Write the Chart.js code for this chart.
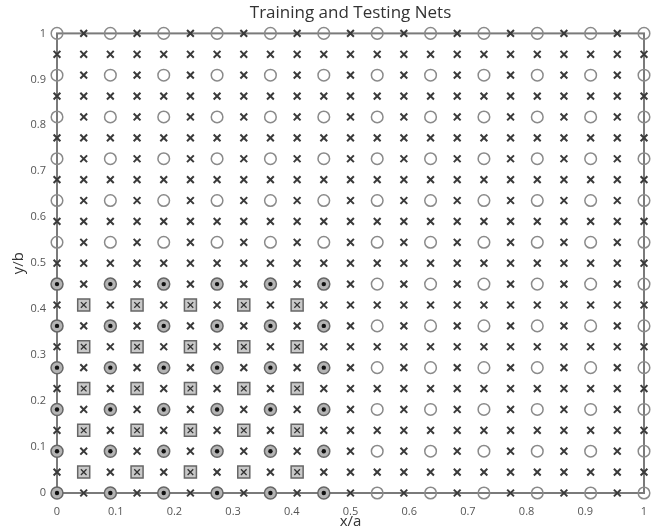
<!DOCTYPE html>
<html>
  <head>
    <title>Training and Testing Nets</title>
    <script src="https://cdn.jsdelivr.net/npm/chart.js"></script>
    <style>
      body {
        margin: 0;
        background: #ffffff;
      }
      .chart-wrapper {
        width: 668px;
        height: 531px;
        position: relative;
      }
    </style>
  </head>
  <body>
    <div class="chart-wrapper">
      <canvas id="netsChart"></canvas>
    </div>

    <script>
      // coarse net (circle nodes) and the midpoints between them
      var coarse = [0, 0.0909, 0.1818, 0.2727, 0.3636, 0.4545, 0.5455, 0.6364, 0.7273, 0.8182, 0.9091, 1];
      var mid = [0.0455, 0.1364, 0.2273, 0.3182, 0.4091, 0.5, 0.5909, 0.6818, 0.7727, 0.8636, 0.9545];
      // lower-left block used for training
      var trainCoarse = [0, 0.0909, 0.1818, 0.2727, 0.3636, 0.4545];
      var trainMid = [0.0455, 0.1364, 0.2273, 0.3182, 0.4091];
      var xTicks = [0, 0.1, 0.2, 0.3, 0.4, 0.5, 0.6, 0.7, 0.8, 0.9, 1];
      var yTicks = [0, 0.1, 0.2, 0.3, 0.4, 0.5, 0.6, 0.7, 0.8, 0.9, 1];

      function pairs(xs, ys, skip) {
        var out = [];
        xs.forEach(function (x) {
          ys.forEach(function (y) {
            if (!skip || !skip(x, y)) out.push({ x: x, y: y });
          });
        });
        return out;
      }
      function inTrain(x, y) {
        return x <= 0.46 && y <= 0.46;
      }

      var openCircles = pairs(coarse, coarse, inTrain);
      var filledCircles = pairs(trainCoarse, trainCoarse);
      var boxed = pairs(trainMid, trainMid);
      var crosses = pairs(coarse, mid)
        .concat(pairs(mid, coarse))
        .concat(pairs(mid, mid, inTrain));

      const framePlugin = {
        id: "frame",
        beforeDatasetsDraw: function (chart) {
          var a = chart.chartArea;
          var c = chart.ctx;
          c.save();
          c.strokeStyle = "#7a7a7a";
          c.lineWidth = 2;
          c.strokeRect(a.left, a.top, a.right - a.left, a.bottom - a.top);
          c.restore();
        },
      };

      function plainLabel(v) {
        return String(Math.round(v * 10) / 10);
      }

      const ctx = document.getElementById("netsChart");
      new Chart(ctx, {
        type: "scatter",
        data: {
          datasets: [
            {
              data: filledCircles,
              pointStyle: "circle",
              pointRadius: 2.2,
              backgroundColor: "#111",
              borderWidth: 0,
              clip: false,
            },
            {
              data: boxed,
              pointStyle: "crossRot",
              pointRadius: 4,
              borderColor: "#333",
              borderWidth: 1.3,
              clip: false,
            },
            {
              data: crosses,
              pointStyle: "crossRot",
              pointRadius: 4.8,
              borderColor: "#3a3a3a",
              borderWidth: 2,
              clip: false,
            },
            {
              data: filledCircles,
              pointStyle: "circle",
              pointRadius: 6,
              backgroundColor: "#b4b4b4",
              borderColor: "#666",
              borderWidth: 1.5,
              clip: false,
            },
            {
              data: boxed,
              pointStyle: "rect",
              pointRadius: 8.5,
              backgroundColor: "#c8c8c8",
              borderColor: "#666",
              borderWidth: 1.5,
              clip: false,
            },
            {
              data: openCircles,
              pointStyle: "circle",
              pointRadius: 5.8,
              backgroundColor: "rgba(0,0,0,0)",
              borderColor: "#8a8a8a",
              borderWidth: 1.5,
              clip: false,
            },
          ],
        },
        options: {
          responsive: true,
          maintainAspectRatio: false,
          animation: false,
          events: [],
          layout: { padding: { left: 10, right: 24, top: 0, bottom: 0 } },
          plugins: {
            legend: { display: false },
            tooltip: { enabled: false },
            title: {
              display: true,
              text: "Training and Testing Nets",
              fullSize: false,
              color: "#333",
              font: { family: "Open Sans", size: 17, weight: "normal" },
              padding: { top: 3, bottom: 10 },
            },
          },
          scales: {
            x: {
              type: "linear",
              min: 0,
              max: 1,
              afterBuildTicks: function (s) {
                s.ticks = xTicks.map(function (v) { return { value: v }; });
              },
              afterFit: function (s) { s.height = 38; },
              grid: { display: false },
              border: { display: false },
              ticks: {
                color: "#555",
                padding: 4,
                maxRotation: 0,
                font: { family: "Open Sans", size: 11 },
                callback: plainLabel,
              },
              title: {
                display: true,
                text: "x/a",
                color: "#333",
                font: { family: "Open Sans", size: 15 },
                padding: 0,
              },
            },
            y: {
              type: "linear",
              min: 0,
              max: 1,
              afterBuildTicks: function (s) {
                s.ticks = yTicks.map(function (v) { return { value: v }; });
              },
              afterFit: function (s) { s.width = 47; },
              grid: { display: false },
              border: { display: false },
              ticks: {
                color: "#555",
                padding: 3,
                font: { family: "Open Sans", size: 11 },
                callback: plainLabel,
              },
              title: {
                display: true,
                text: "y/b",
                color: "#333",
                font: { family: "Open Sans", size: 15 },
                padding: 0,
              },
            },
          },
        },
        plugins: [framePlugin],
      });
    </script>
  </body>
</html>
